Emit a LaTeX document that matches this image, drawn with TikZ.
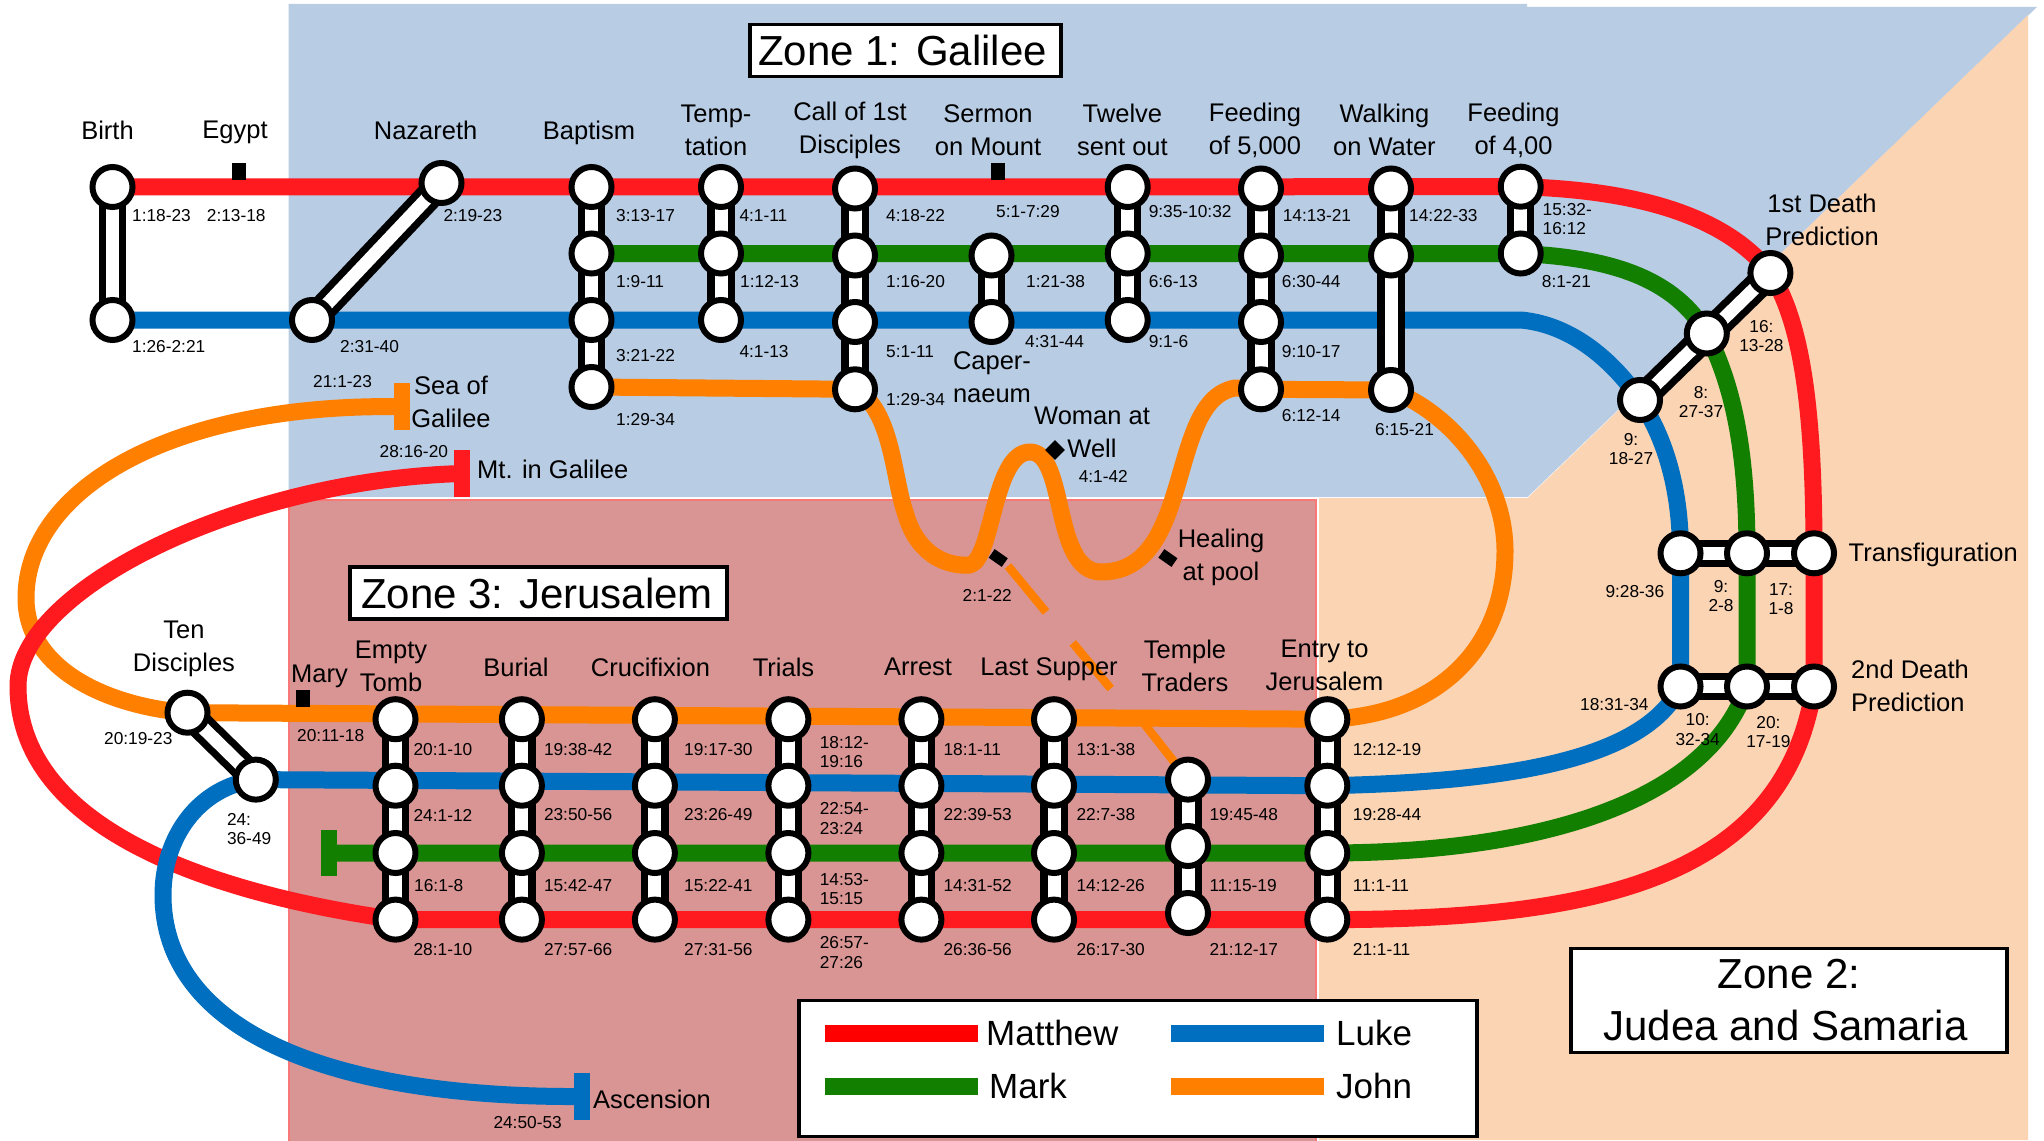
\documentclass[tikz,border=0pt]{standalone}
\usepackage{fontspec}
\setmainfont{Liberation Sans}
\usetikzlibrary{shapes.geometric,backgrounds}
\definecolor{mattc}{HTML}{FF1A1F}
\definecolor{markc}{HTML}{137F00}
\definecolor{lukec}{HTML}{006FC0}
\definecolor{johnc}{HTML}{FF8000}
\definecolor{zoneA}{HTML}{B8CCE4}
\definecolor{zoneB}{HTML}{FBD4B4}
\definecolor{zoneC}{HTML}{D99594}
\definecolor{zoneCb}{HTML}{F87878}
\pgfdeclarelayer{tracklayer}
\pgfdeclarelayer{linklayer}
\pgfdeclarelayer{zonelayer}
\pgfsetlayers{zonelayer,tracklayer,linklayer,main}
\tikzset{
  stn/.style={circle,draw=black,fill=white,line width=6pt,minimum size=40pt,inner sep=0pt},
  track/.style={line width=17pt,line cap=butt,line join=round},
  matt/.style={track,draw=mattc},
  marc/.style={track,draw=markc},
  luke/.style={track,draw=lukec},
  john/.style={track,draw=johnc},
  thinj/.style={line width=8.5pt,draw=johnc},
  linkout/.style={line width=27.5pt,draw=black},
  linkin/.style={line width=13pt,draw=white},
  sm/.style={inner sep=0pt,anchor=west,font=\fontsize{17.3}{19.7}\selectfont,align=left},
  smc/.style={inner sep=0pt,font=\fontsize{17.3}{19.7}\selectfont,align=center},
  nm/.style={inner sep=0pt,font=\fontsize{25.5}{33}\selectfont,align=center},
  nml/.style={inner sep=0pt,anchor=west,font=\fontsize{25.5}{33}\selectfont,align=left},
  tick/.style={fill=black,inner sep=0pt,minimum width=14pt,minimum height=17pt},
  tilt/.style={fill=black,inner sep=0pt,minimum width=16pt,minimum height=10.5pt,rotate=-35},
  gem/.style={diamond,fill=black,inner sep=0pt,minimum width=20pt,minimum height=20pt},
  bar/.style={inner sep=0pt,minimum width=16pt,minimum height=46.5pt},
  zonebox/.style={draw=black,fill=white,line width=3.5pt,inner sep=0pt,align=center,font=\fontsize{42}{52}\selectfont},
  legline/.style={inner sep=0pt,minimum width=153pt,minimum height=16.5pt},
  legtxt/.style={inner sep=0pt,anchor=west,font=\fontsize{35}{40}\selectfont},
}
\newcommand{\lnk}[2]{\begin{pgfonlayer}{linklayer}\draw[linkout] (#1.center) -- (#2.center);\draw[linkin] (#1.center) -- (#2.center);\end{pgfonlayer}}
\newcommand{\st}[3]{\node[stn] (#1) at (#2,#3) {};}
\begin{document}
\begin{tikzpicture}[x=1pt,y=-1pt]
\useasboundingbox (0,0) rectangle (2044,1140);
\begin{pgfonlayer}{zonelayer}
  \fill[white] (0,0) rectangle (2044,1140);
  \fill[zoneA] (288.5,4) -- (1527,4) -- (1527,7) -- (2037,7) -- (1527.5,497) -- (288.5,497) -- cycle;
  \fill[zoneB] (1319,498) -- (1527.5,498) -- (2028,15) -- (2028,1140) -- (1319,1140) -- cycle;
  \filldraw[fill=zoneC,draw=zoneCb,line width=2.5pt] (289,500) rectangle (1316,1142);
\end{pgfonlayer}
% Stations
\st{bA}{112.5}{187}\st{bB}{112.5}{320}
\st{nA}{441.5}{183}\st{nB}{312}{320}
\st{baA}{591.5}{187}\st{baB}{591.5}{253.5}\st{baC}{591.5}{320}\st{baD}{591.5}{387}
\st{teA}{721}{187}\st{teB}{721}{253.5}\st{teC}{721}{320}
\st{caA}{855}{188.5}\st{caB}{855}{255.5}\st{caC}{855}{322}\st{caD}{855}{389.3}
\st{seA}{991.5}{255.5}\st{seB}{991.5}{322}
\st{twA}{1127.7}{187}\st{twB}{1127.7}{253.5}\st{twC}{1127.7}{320}
\st{fvA}{1261}{188.5}\st{fvB}{1261}{255.5}\st{fvC}{1261}{322}\st{fvD}{1261}{389.3}
\st{waA}{1391}{188.5}\st{waB}{1391}{255.5}\st{waD}{1391}{390}
\st{ffA}{1520.7}{186.7}\st{ffB}{1520.7}{253.5}
\st{dA}{1770.4}{273}\st{dB}{1706.8}{333.5}\st{dC}{1640}{400}
\st{trL}{1680.5}{553.3}\st{trM}{1747}{553.3}\st{trR}{1814}{553.3}
\st{seL}{1680.5}{686.5}\st{seM}{1747}{686.5}\st{seR}{1814}{686.5}
\st{tenA}{187.5}{712.7}\st{tenB}{255.8}{779.6}
\st{etA}{395.5}{719.2}\st{etB}{395.5}{785.7}\st{etC}{395.5}{853}\st{etD}{395.5}{919.6}
\st{buA}{521.9}{719.2}\st{buB}{521.9}{785.7}\st{buC}{521.9}{853}\st{buD}{521.9}{919.6}
\st{crA}{654.9}{719.2}\st{crB}{654.9}{785.7}\st{crC}{654.9}{853}\st{crD}{654.9}{919.6}
\st{tiA}{788.4}{719.2}\st{tiB}{788.4}{785.7}\st{tiC}{788.4}{853}\st{tiD}{788.4}{919.6}
\st{arA}{921.4}{719.2}\st{arB}{921.4}{785.7}\st{arC}{921.4}{853}\st{arD}{921.4}{919.6}
\st{lsA}{1054}{719.2}\st{lsB}{1054}{785.7}\st{lsC}{1054}{853}\st{lsD}{1054}{919.6}
\st{ttA}{1188}{779.6}\st{ttB}{1188}{846}\st{ttC}{1188}{913}
\st{enA}{1327.3}{719.2}\st{enB}{1327.3}{785.7}\st{enC}{1327.3}{853}\st{enD}{1327.3}{919.6}
% Terminal bars and markers
\node[bar,fill=johnc] (sea) at (401.8,406.7) {};
\node[bar,fill=mattc] (mtg) at (462,473.5) {};
\node[bar,fill=lukec] (asc) at (582,1096.5) {};
\node[bar,fill=markc] (mke) at (329,853) {};
\node[tick] (egy) at (239,171.5) {};
\node[tick] (ser) at (998,171.5) {};
\node[tick] (mry) at (302.5,698.5) {};
\node[tilt] (can) at (998.2,558) {};
\node[tilt] (pool) at (1167.9,558) {};
\node[gem] (well) at (1055,450) {};
\coordinate (blt) at (1521,320);
\coordinate (jA) at (1008,566);\coordinate (jB) at (1046,612);
\coordinate (jC) at (1072.8,642.9);\coordinate (jD) at (1110.7,688.6);
\coordinate (jE) at (1139.7,718);
% Tracks
\begin{pgfonlayer}{tracklayer}
\draw[john] (baD.center) -- (caD.center) .. controls (893,410) and (893,480) .. (906,515)
  .. controls (916,550) and (942,567) .. (970,565)
  .. controls (993,559) and (993,452) .. (1030,452)
  .. controls (1067,452) and (1052,572) .. (1101,572)
  .. controls (1195,572) and (1166,400) .. (1235,388) -- (fvD.center) -- (waD.center)
  .. controls (1454,415) and (1505,480) .. (1505,551)
  .. controls (1505,650) and (1435,716) .. (enA.center) -- (tenA.center)
  .. controls (105,706) and (26,668) .. (26,598)
  .. controls (26,490) and (170,403) .. (sea.center);
\draw[thinj] (jA) -- (jB);
\draw[thinj] (jC) -- (jD);
\draw[thinj] (jE) -- (ttA.center);
\draw[matt] (bA.center) -- (ffA.center)
  .. controls (1635,190) and (1725,215) .. (dA.center)
  .. controls (1800,320) and (1814,400) .. (trR.center) -- (seR.center)
  .. controls (1785,875) and (1605,920) .. (enD.center) -- (etD.center)
  .. controls (228,896) and (18,835) .. (18,686)
  .. controls (18,590) and (240,480) .. (mtg.center);
\draw[luke] (bB.center) -- (blt)
  .. controls (1575,325) and (1616,365) .. (dC.center)
  .. controls (1666,440) and (1680.5,490) .. (trL.center) -- (seL.center)
  .. controls (1645,758) and (1515,782) .. (enB.center) -- (tenB.center)
  .. controls (198,787) and (163,838) .. (163,895)
  .. controls (163,1025) and (318,1098) .. (asc.center);
\draw[marc] (baB.center) -- (ffB.center)
  .. controls (1615,258) and (1675,280) .. (dB.center)
  .. controls (1730,380) and (1747,440) .. (trM.center) -- (seM.center)
  .. controls (1705,808) and (1525,853) .. (enC.center) -- (mke.center);
\end{pgfonlayer}
% Links
\lnk{bA}{bB}\lnk{nA}{nB}\lnk{baA}{baD}\lnk{teA}{teC}\lnk{caA}{caD}\lnk{seA}{seB}
\lnk{twA}{twC}\lnk{fvA}{fvD}\lnk{waA}{waD}\lnk{ffA}{ffB}\lnk{dA}{dC}
\lnk{trL}{trR}\lnk{seL}{seR}\lnk{tenA}{tenB}
\lnk{etA}{etD}\lnk{buA}{buD}\lnk{crA}{crD}\lnk{tiA}{tiD}\lnk{arA}{arD}\lnk{lsA}{lsD}
\lnk{ttA}{ttC}\lnk{enA}{enD}
% Station names
\node[nm] (tBirth) at (107.5,130) {Birth};
\node[nm] (tEgypt) at (235,132.5) {Egypt};
\node[nm] (tNaz) at (425.6,130) {Nazareth};
\node[nm] (tBap) at (589,132.5) {Baptism};
\node[nm] (tTem) at (716,130) {Temp-\\tation};
\node[nm] (tCal) at (850,130) {Call of 1st\\Disciples};
\node[nm] (tSer) at (988,130) {Sermon\\on Mount};
\node[nm] (tTwe) at (1122.4,130) {Twelve\\sent out};
\node[nm] (tFvk) at (1255,130) {Feeding\\of 5,000};
\node[nm] (tWal) at (1384.4,130) {Walking\\on Water};
\node[nm] (tFfh) at (1513.5,130) {Feeding\\of 4,00};
\node[nm] (tDth) at (1822,220) {1st Death\\Prediction};
\node[nm] (tCap) at (992,377) {Caper-\\naeum};
\node[nm] (tWom) at (1092,432) {Woman at\\Well};
\node[nm] (tHea) at (1221,557.5) {Healing\\at pool};
\node[nm] (tSea) at (451,402) {Sea of\\Galilee};
\node[nml] (tMtg) at (477,469) {Mt. in Galilee};
\node[nm] (tTen) at (184,649) {Ten\\Disciples};
\node[nm] (tMar) at (319.5,676.5) {Mary};
\node[nm] (tEmp) at (391,666) {Empty\\Tomb};
\node[nm] (tBur) at (516,667) {Burial};
\node[nm] (tCru) at (650.5,667) {Crucifixion};
\node[nm] (tTri) at (783.5,667) {Trials};
\node[nm] (tArr) at (918,667) {Arrest};
\node[nm] (tLas) at (1049,669) {Last Supper};
\node[nm] (tTmp) at (1185,666) {Temple\\Traders};
\node[nm] (tEnt) at (1324.5,665.5) {Entry to\\Jerusalem};
\node[nml] (tTra) at (1848.5,554.5) {Transfiguration};
\node[nml] (tSnd) at (1851,686) {2nd Death\\Prediction};
\node[nml] (tAsc) at (593,1099) {Ascension};
% Small labels
\node[sm] (a1) at (132,216) {1:18-23};
\node[sm] (a2) at (206.7,216) {2:13-18};
\node[sm] (a3) at (443.3,216) {2:19-23};
\node[sm] (a4) at (616,216) {3:13-17};
\node[sm] (a5) at (616,282) {1:9-11};
\node[sm] (a6) at (132,347) {1:26-2:21};
\node[sm] (a7) at (340,347) {2:31-40};
\node[sm] (a8) at (616,356) {3:21-22};
\node[sm] (a9) at (616,420) {1:29-34};
\node[sm] (a10) at (313,382) {21:1-23};
\node[sm] (a11) at (379.5,452) {28:16-20};
\node[sm] (a12) at (739.3,216) {4:1-11};
\node[sm] (a13) at (740,282) {1:12-13};
\node[sm] (a14) at (739.3,352) {4:1-13};
\node[sm] (a15) at (886,216) {4:18-22};
\node[sm] (a16) at (886,282) {1:16-20};
\node[sm] (a17) at (886,352) {5:1-11};
\node[sm] (a18) at (886,400) {1:29-34};
\node[sm] (a19) at (996,212) {5:1-7:29};
\node[sm] (a20) at (1026,282) {1:21-38};
\node[sm] (a21) at (1025,342) {4:31-44};
\node[sm] (a22) at (1148.6,212) {9:35-10:32};
\node[sm] (a23) at (1148.6,282) {6:6-13};
\node[sm] (a24) at (1148.6,342) {9:1-6};
\node[sm] (a25) at (1282.6,216) {14:13-21};
\node[sm] (a26) at (1281.7,282) {6:30-44};
\node[sm] (a27) at (1281.7,352) {9:10-17};
\node[sm] (a28) at (1281.7,416) {6:12-14};
\node[sm] (a29) at (1375,430) {6:15-21};
\node[sm] (a30) at (1078.6,476) {4:1-42};
\node[sm] (a31) at (1409,216) {14:22-33};
\node[sm] (a32) at (1542.5,219) {15:32-\\16:12};
\node[sm] (a33) at (1541.7,282) {8:1-21};
\node[smc] (a34) at (1761.4,336) {16:\\13-28};
\node[smc] (a35) at (1701,402) {8:\\27-37};
\node[smc] (a36) at (1631,449) {9:\\18-27};
\node[sm] (a37) at (1605.3,592) {9:28-36};
\node[smc] (a38) at (1721,596) {9:\\2-8};
\node[smc] (a39) at (1781,599) {17:\\1-8};
\node[sm] (a40) at (1580,705) {18:31-34};
\node[smc] (a41) at (1697.7,729.4) {10:\\32-34};
\node[smc] (a42) at (1768.4,732) {20:\\17-19};
\node[sm] (a43) at (104,739) {20:19-23};
\node[sm] (a44) at (226.8,829) {24:\\36-49};
\node[sm] (a45) at (297,736) {20:11-18};
\node[sm] (b1) at (413.4,749.4) {20:1-10};
\node[sm] (b2) at (413.4,815) {24:1-12};
\node[sm] (b3) at (414,885.3) {16:1-8};
\node[sm] (b4) at (413.4,949.4) {28:1-10};
\node[sm] (b5) at (543.8,749.4) {19:38-42};
\node[sm] (b6) at (543.8,815) {23:50-56};
\node[sm] (b7) at (543.8,885.3) {15:42-47};
\node[sm] (b8) at (543.8,949.4) {27:57-66};
\node[sm] (b9) at (493.3,1122.4) {24:50-53};
\node[sm] (b10) at (684,749.4) {19:17-30};
\node[sm] (b11) at (684,815) {23:26-49};
\node[sm] (b12) at (684,885.3) {15:22-41};
\node[sm] (b13) at (684,949.4) {27:31-56};
\node[sm] (b14) at (819.6,752) {18:12-\\19:16};
\node[sm] (b15) at (819.6,818.8) {22:54-\\23:24};
\node[sm] (b16) at (819.6,889) {14:53-\\15:15};
\node[sm] (b17) at (819.6,952.2) {26:57-\\27:26};
\node[sm] (b18) at (943.3,749.4) {18:1-11};
\node[sm] (b19) at (943.3,815) {22:39-53};
\node[sm] (b20) at (943.3,885.3) {14:31-52};
\node[sm] (b21) at (943.3,949.4) {26:36-56};
\node[sm] (b22) at (1076.3,749.4) {13:1-38};
\node[sm] (b23) at (1076.3,815) {22:7-38};
\node[sm] (b24) at (1076.3,885.3) {14:12-26};
\node[sm] (b25) at (1076.3,949.4) {26:17-30};
\node[sm] (b26) at (1209.4,815) {19:45-48};
\node[sm] (b27) at (1209.4,885.3) {11:15-19};
\node[sm] (b28) at (1209.4,949.4) {21:12-17};
\node[sm] (b29) at (1352.7,749.4) {12:12-19};
\node[sm] (b30) at (1352.7,815) {19:28-44};
\node[sm] (b31) at (1352.7,885.3) {11:1-11};
\node[sm] (b32) at (1352.7,949.4) {21:1-11};
\node[sm] (b33) at (962.5,595) {2:1-22};
% Zone boxes
\node[zonebox,minimum width=311pt,minimum height=52pt] (zA) at (905.5,50.3) {Zone 1: Galilee\hspace*{6pt}};
\node[zonebox,minimum width=377pt,minimum height=52pt] (zC) at (538.5,593) {Zone 3: Jerusalem\hspace*{3pt}};
\node[zonebox,minimum width=436pt,minimum height=104pt] (zB) at (1789,1000.4) {Zone 2:\\Judea and Samaria\hspace*{7pt}};
% Legend
\node[draw=black,fill=white,line width=3.5pt,inner sep=0pt,minimum width=678pt,minimum height=136pt] (leg) at (1138,1068.6) {};
\node[legline,fill=red] (lgA) at (901.5,1033.5) {};
\node[legline,fill=markc] (lgB) at (901.5,1086.5) {};
\node[legline,fill=lukec] (lgC) at (1247.5,1033.5) {};
\node[legline,fill=johnc] (lgD) at (1247.5,1086.5) {};
\node[legtxt] (lgtA) at (986,1033) {Matthew};
\node[legtxt] (lgtB) at (989,1086) {Mark};
\node[legtxt] (lgtC) at (1336,1033) {Luke};
\node[legtxt] (lgtD) at (1336,1086) {John};
\end{tikzpicture}
\end{document}
